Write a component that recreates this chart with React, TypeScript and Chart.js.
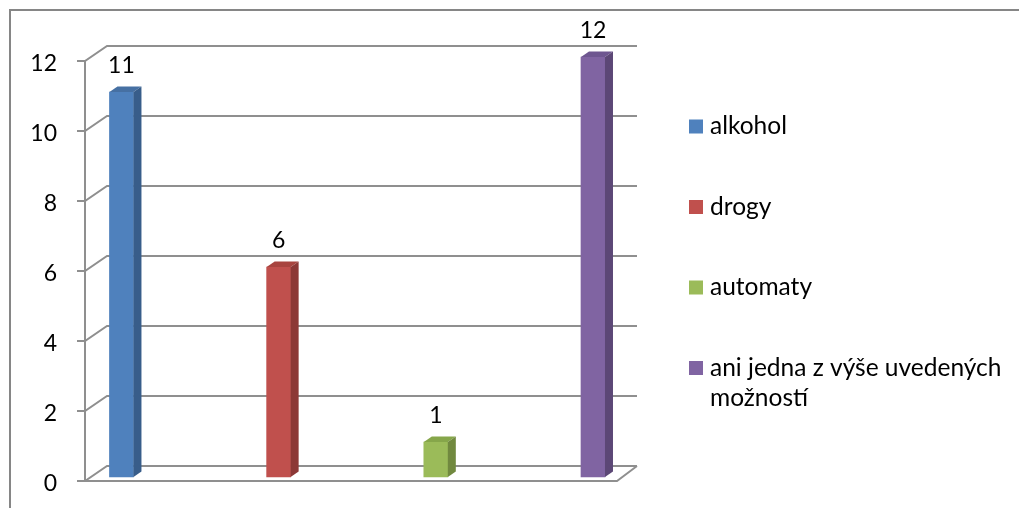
import React, { useEffect, useRef } from 'react';
import { Chart, registerables } from 'chart.js';

Chart.register(...registerables);

const categories = ['alkohol', 'drogy', 'automaty', 'ani jedna z výše uvedených možností'];
const values = [11, 6, 1, 12];
const yTickValues = [0, 2, 4, 6, 8, 10, 12];
const frontColors = ['#4F81BD', '#C0504D', '#9BBB59', '#8064A2'];
const topColors = ['#4670A3', '#A8443F', '#86A64A', '#6E5690'];
const sideColors = ['#385D8A', '#8C3836', '#71893F', '#5C4776'];

const FONT = 'Lato, "Open Sans", sans-serif';
const FONT_SIZE = 23;
const LEGEND_FONT_SIZE = 24.5;
const GRID = '#8f8f8f';
const WALL_DX = 22;
const WALL_DY = 15;
const BAR_SHIFT = 4;
const BAR_DX = 8;
const BAR_DY = 5.5;

const wrapText = (ctx: CanvasRenderingContext2D, text: string, maxW: number) => {
  const words = text.split(' ');
  const lines: string[] = [];
  let cur = '';
  for (const w of words) {
    const t = cur ? cur + ' ' + w : w;
    if (ctx.measureText(t).width > maxW && cur) {
      lines.push(cur);
      cur = w;
    } else cur = t;
  }
  if (cur) lines.push(cur);
  return lines;
};

const threeD = {
  id: 'threeD',
  beforeDraw(chart: any) {
    const { ctx, width, height } = chart;
    ctx.save();
    ctx.strokeStyle = '#868686';
    ctx.lineWidth = 2;
    ctx.beginPath();
    ctx.moveTo(10, height + 5);
    ctx.lineTo(10, 10);
    ctx.lineTo(width + 5, 10);
    ctx.stroke();
    ctx.restore();
  },
  beforeDatasetsDraw(chart: any) {
    const { ctx, chartArea: a, scales } = chart;
    const y = scales.y;
    const fx0 = a.left;
    const bx0 = a.left + WALL_DX;
    const bx1 = a.right;
    const fx1 = a.right - WALL_DX + 2;
    ctx.save();
    ctx.strokeStyle = GRID;
    ctx.lineWidth = 2;
    ctx.beginPath();
    const top = y.getPixelForValue(yTickValues[yTickValues.length - 1]);
    const p0 = y.getPixelForValue(0);
    ctx.moveTo(fx0, top);
    ctx.lineTo(fx0, p0);
    for (const v of yTickValues) {
      const py = y.getPixelForValue(v);
      ctx.moveTo(fx0 - 8, py);
      ctx.lineTo(fx0, py);
      ctx.lineTo(bx0, py - WALL_DY);
      ctx.lineTo(bx1, py - WALL_DY);
    }
    ctx.moveTo(fx0, p0);
    ctx.lineTo(fx1, p0);
    ctx.lineTo(bx1, p0 - WALL_DY);
    ctx.stroke();
    ctx.restore();
    ctx.save();
    ctx.translate(0, -BAR_SHIFT);
  },
  afterDatasetsDraw(chart: any) {
    const { ctx } = chart;
    const meta = chart.getDatasetMeta(0);
    meta.data.forEach((bar: any, i: number) => {
      const { x, y, base, width } = bar.getProps(['x', 'y', 'base', 'width'], true);
      const l = x - width / 2;
      const r = x + width / 2;
      ctx.fillStyle = topColors[i];
      ctx.beginPath();
      ctx.moveTo(l, y);
      ctx.lineTo(l + BAR_DX, y - BAR_DY);
      ctx.lineTo(r + BAR_DX, y - BAR_DY);
      ctx.lineTo(r, y);
      ctx.closePath();
      ctx.fill();
      ctx.fillStyle = sideColors[i];
      ctx.beginPath();
      ctx.moveTo(r, y);
      ctx.lineTo(r + BAR_DX, y - BAR_DY);
      ctx.lineTo(r + BAR_DX, base - BAR_DY);
      ctx.lineTo(r, base);
      ctx.closePath();
      ctx.fill();
      ctx.fillStyle = '#000';
      ctx.font = `${FONT_SIZE}px ${FONT}`;
      ctx.textAlign = 'center';
      ctx.textBaseline = 'alphabetic';
      ctx.fillText(String(values[i]), x, y - 19);
    });
    ctx.restore();
  },
  afterDraw(chart: any) {
    const { ctx, chartArea: a } = chart;
    ctx.save();
    ctx.font = `${LEGEND_FONT_SIZE}px ${FONT}`;
    ctx.textAlign = 'left';
    ctx.textBaseline = 'alphabetic';
    const boxX = a.right + 52;
    const textX = boxX + 21;
    categories.forEach((c, i) => {
      const cy = 126.5 + i * 80.5;
      ctx.fillStyle = frontColors[i];
      ctx.fillRect(boxX, cy - 7, 14, 14);
      ctx.fillStyle = '#000';
      const lines = wrapText(ctx, c, chart.width - textX - 8);
      lines.forEach((ln, k) => ctx.fillText(ln, textX, cy + 7.5 + k * 30));
    });
    ctx.restore();
  },
};

export default function App() {
  const ref = useRef<HTMLCanvasElement>(null);
  useEffect(() => {
    document.body.style.margin = '0';
    const chart = new Chart(ref.current!, {
      type: 'bar',
      data: {
        datasets: [
          {
            label: 'hodnoty',
            data: values.map((v, i) => ({ x: i, y: v })),
            backgroundColor: frontColors,
            borderWidth: 0,
            barThickness: 24,
            clip: false as any,
          },
        ],
      },
      options: {
        responsive: false,
        animation: false,
        events: [],
        layout: { padding: { left: 0, top: 61, right: 382, bottom: 27 } },
        plugins: { legend: { display: false }, tooltip: { enabled: false } },
        scales: {
          x: { type: 'linear', min: -0.232, max: 3.28, display: false, offset: false },
          y: {
            min: 0,
            max: 12,
            afterBuildTicks: (s: any) => {
              s.ticks = yTickValues.map((v) => ({ value: v }));
            },
            afterFit: (s: any) => {
              s.width = 85;
            },
            grid: { display: false, drawTicks: true, tickLength: 28 },
            border: { display: false },
            ticks: {
              padding: 0,
              labelOffset: 3,
              color: '#000',
              font: { family: FONT, size: FONT_SIZE },
            },
          },
        },
      },
      plugins: [threeD],
    });
    return () => chart.destroy();
  }, []);
  return <canvas ref={ref} width={1019} height={508} />;
}
